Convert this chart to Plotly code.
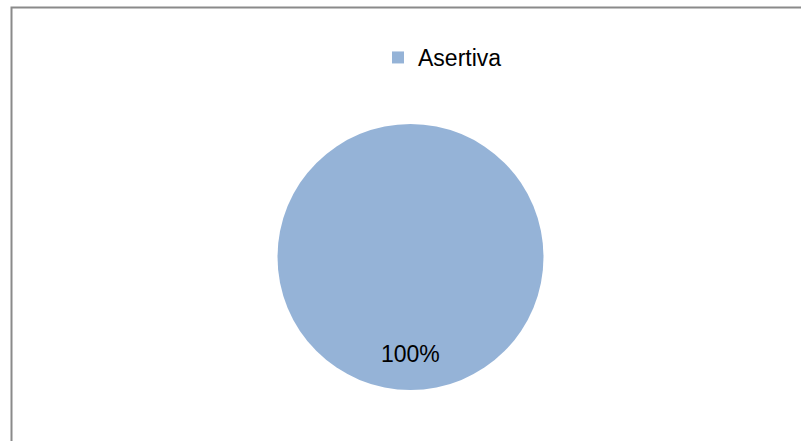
import plotly.graph_objects as go

labels = ["Asertiva"]
values = [100]
colors = ["#95B3D7"]

W, H = 801, 441
total = sum(values)
pct_text = [f"{round(v / total * 100)}%" for v in values]

fig = go.Figure(go.Pie(
    labels=labels,
    values=values,
    marker=dict(colors=colors, line=dict(width=0)),
    textinfo="none",
    sort=False,
    domain=dict(x=[277 / W, 544 / W], y=[51 / H, 317 / H]),
    hoverinfo="label+percent",
))

fig.add_annotation(
    text=pct_text[0], x=410 / W, y=(H - 354) / H, xref="paper", yref="paper",
    showarrow=False, font=dict(family="Liberation Sans, Arial, sans-serif", size=23, color="#000000"),
    xanchor="center", yanchor="middle",
)

fig.add_shape(
    type="rect", xref="paper", yref="paper",
    x0=11.5 / W, x1=1.05, y0=-0.05, y1=(H - 7.5) / H,
    line=dict(color="#8a8a8a", width=2), fillcolor="rgba(0,0,0,0)", layer="above",
)

fig.update_layout(
    width=W, height=H,
    margin=dict(l=0, r=0, t=0, b=0),
    paper_bgcolor="white", plot_bgcolor="white",
    showlegend=True,
    legend=dict(
        orientation="h", x=(392 - 14) / W, y=(H - 36) / H, xanchor="left", yanchor="top",
        font=dict(family="Liberation Sans, Arial, sans-serif", size=23, color="#000000"),
        bgcolor="rgba(0,0,0,0)",
    ),
)

fig.write_html("out.html")
